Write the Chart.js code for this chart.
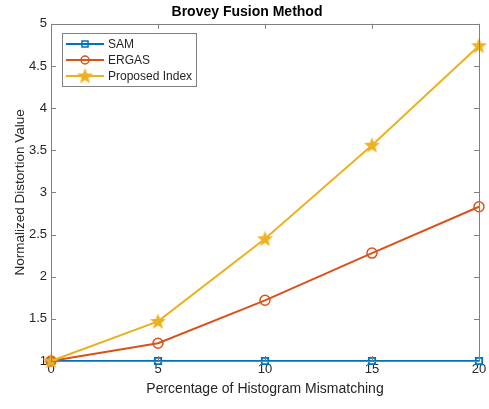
<!DOCTYPE html>
<html>
<head>
<meta charset="utf-8">
<script src="https://cdn.jsdelivr.net/npm/chart.js@4.4.1/dist/chart.umd.min.js"></script>
<style>
  html, body { margin: 0; padding: 0; background: #fff; }
  #wrap { width: 489px; height: 409px; }
</style>
</head>
<body>
<div id="wrap"><canvas id="myChart" width="489" height="409"></canvas></div>
<script>
// chart data
const mismatch = [0, 5, 10, 15, 20];
const samValues = [1, 1, 1, 1, 1];
const ergasValues = [1, 1.21, 1.72, 2.28, 2.83];
const proposedValues = [1, 1.47, 2.45, 3.56, 4.74];
const xTicks = [0, 5, 10, 15, 20];
const yTicks = [1, 1.5, 2, 2.5, 3, 3.5, 4, 4.5, 5];

const BLUE = "#0072BD", ORANGE = "#D95319", YELLOW = "#EDB120";
const FONT = "'Liberation Sans', Arial, Helvetica, sans-serif";

// filled five point star used as the marker
function makeStar(size, color) {
    const c = document.createElement("canvas");
    c.width = size; c.height = size;
    const g = c.getContext("2d");
    const cx = size / 2, cy = size / 2 + 0.5, R = size / 2, r = R * 0.42;
    g.beginPath();
    for (let i = 0; i < 10; i++) {
        const a = -Math.PI / 2 + i * Math.PI / 5;
        const rad = i % 2 === 0 ? R : r;
        g.lineTo(cx + rad * Math.cos(a), cy + rad * Math.sin(a));
    }
    g.closePath();
    g.fillStyle = color;
    g.fill();
    return c;
}
const starImg = makeStar(17, YELLOW);

const toPoints = (vals) => vals.map((v, i) => ({ x: mismatch[i], y: v }));

// box, inward ticks and legend, MATLAB style
const matlabBox = {
    id: "matlabBox",
    afterDatasetsDraw(chart) {
        const ctx = chart.ctx;
        const a = chart.chartArea;
        const xs = chart.scales.x, ys = chart.scales.y;
        ctx.save();
        ctx.strokeStyle = "#808080";
        ctx.lineWidth = 1;
        ctx.beginPath();
        ctx.rect(Math.round(a.left) + 0.5, Math.round(a.top) + 0.5,
                 Math.round(a.right - a.left), Math.round(a.bottom - a.top));
        const tl = 5;
        xTicks.forEach(t => {
            const px = Math.round(xs.getPixelForValue(t)) + 0.5;
            ctx.moveTo(px, a.bottom); ctx.lineTo(px, a.bottom - tl);
            ctx.moveTo(px, a.top); ctx.lineTo(px, a.top + tl);
        });
        yTicks.forEach(t => {
            const py = Math.round(ys.getPixelForValue(t)) + 0.5;
            ctx.moveTo(a.left, py); ctx.lineTo(a.left + tl, py);
            ctx.moveTo(a.right, py); ctx.lineTo(a.right - tl, py);
        });
        ctx.stroke();
        ctx.restore();
    },
    afterDraw(chart) {
        const ctx = chart.ctx;
        ctx.save();
        // legend box
        const bx = 62.5, by = 33.5, bw = 134, bh = 53;
        ctx.fillStyle = "#fff";
        ctx.fillRect(bx, by, bw, bh);
        ctx.strokeStyle = "#808080";
        ctx.lineWidth = 1;
        ctx.strokeRect(bx, by, bw, bh);
        const entries = [
            { label: "SAM", color: BLUE, marker: "rect" },
            { label: "ERGAS", color: ORANGE, marker: "circle" },
            { label: "Proposed Index", color: YELLOW, marker: "star" }
        ];
        entries.forEach((e, i) => {
            const y = 44 + i * 16;
            ctx.strokeStyle = e.color;
            ctx.lineWidth = 2;
            ctx.beginPath();
            ctx.moveTo(66, y); ctx.lineTo(104, y);
            ctx.stroke();
            if (e.marker === "rect") {
                ctx.lineWidth = 1.5;
                ctx.strokeRect(82, y - 3, 6, 6);
            } else if (e.marker === "circle") {
                ctx.lineWidth = 1.5;
                ctx.beginPath();
                ctx.arc(85, y, 4, 0, Math.PI * 2);
                ctx.stroke();
            } else {
                ctx.drawImage(starImg, 85 - 8.5, y - 8.5);
            }
            ctx.fillStyle = "#262626";
            ctx.font = "12px " + FONT;
            ctx.textBaseline = "middle";
            ctx.textAlign = "left";
            ctx.fillText(e.label, 108, y + 1);
        });
        ctx.restore();
    }
};

const ctx = document.getElementById("myChart").getContext("2d");
const chart = new Chart(ctx, {
    type: "line",
    data: {
        datasets: [
            {
                label: "SAM",
                data: toPoints(samValues),
                borderColor: BLUE,
                backgroundColor: "transparent",
                borderWidth: 2,
                pointStyle: "rect",
                pointRadius: 4.5,
                pointBorderWidth: 1.8,
                pointBorderColor: BLUE,
                pointBackgroundColor: "transparent",
                order: 3
            },
            {
                label: "ERGAS",
                data: toPoints(ergasValues),
                borderColor: ORANGE,
                backgroundColor: "transparent",
                borderWidth: 2,
                pointStyle: "circle",
                pointRadius: 5,
                pointBorderWidth: 1.5,
                pointBorderColor: ORANGE,
                pointBackgroundColor: "transparent",
                order: 2
            },
            {
                label: "Proposed Index",
                data: toPoints(proposedValues),
                borderColor: YELLOW,
                backgroundColor: "transparent",
                borderWidth: 2,
                pointStyle: starImg,
                pointRadius: 8,
                order: 1
            }
        ]
    },
    options: {
        responsive: false,
        animation: false,
        clip: false,
        layout: { padding: { left: 12, right: 7, top: 0, bottom: 11 } },
        plugins: {
            legend: { display: false },
            tooltip: { enabled: false },
            title: {
                display: true,
                text: "Brovey Fusion Method",
                color: "#000",
                font: { family: FONT, size: 14, weight: "bold" },
                padding: { top: 4, bottom: 3 }
            }
        },
        scales: {
            x: {
                type: "linear",
                min: 0, max: 20,
                afterBuildTicks: (s) => { s.ticks = xTicks.map(v => ({ value: v })); },
                afterFit: (s) => { s.height = 37; s.paddingLeft = 0; s.paddingRight = 0; },
                grid: { display: false, drawTicks: false },
                border: { display: false },
                ticks: { color: "#262626", font: { family: FONT, size: 13 }, padding: 1, maxRotation: 0 },
                title: {
                    display: true,
                    text: "Percentage of Histogram Mismatching",
                    color: "#262626",
                    font: { family: FONT, size: 14 },
                    padding: { top: 3, bottom: 0 }
                }
            },
            y: {
                type: "linear",
                min: 1, max: 5,
                afterBuildTicks: (s) => { s.ticks = yTicks.map(v => ({ value: v })); },
                afterFit: (s) => { s.width = 39; s.paddingTop = 0; s.paddingBottom = 0; },
                grid: { display: false, drawTicks: false },
                border: { display: false },
                ticks: {
                    color: "#262626",
                    font: { family: FONT, size: 13 },
                    padding: 4,
                    callback: (v) => String(v)
                },
                title: {
                    display: true,
                    text: "Normalized Distortion Value",
                    color: "#262626",
                    font: { family: FONT, size: 13.5 },
                    padding: { top: 0, bottom: 0 }
                }
            }
        }
    },
    plugins: [matlabBox]
});
</script>
</body>
</html>
